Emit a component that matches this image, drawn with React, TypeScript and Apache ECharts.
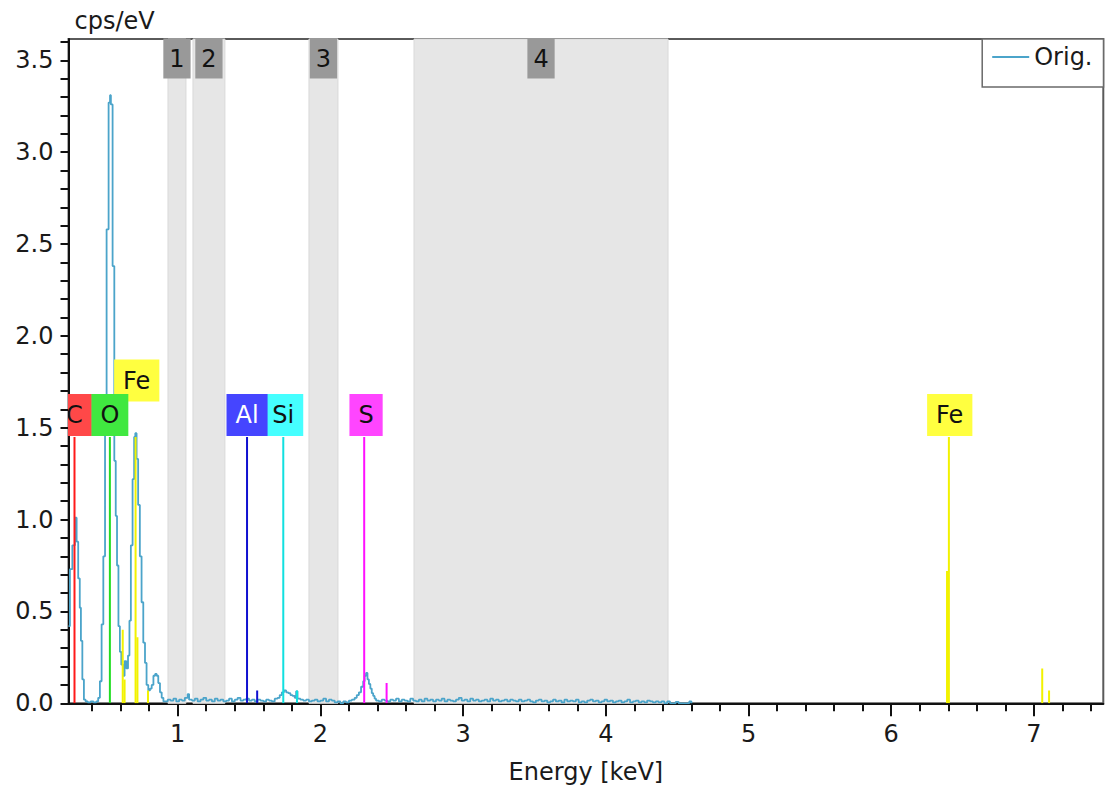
import React, { useEffect, useRef } from 'react';
import * as echarts from 'echarts';

const FONT = '"DejaVu Sans", "Noto Sans", sans-serif';

// ---- axis ticks ----
const xMajorTicks = [1, 2, 3, 4, 5, 6, 7];
const xMinorTicks = [0.4, 0.6, 0.8, 1.2, 1.4, 1.6, 1.8, 2.2, 2.4, 2.6, 2.8, 3.2, 3.4, 3.6, 3.8, 4.2, 4.4, 4.6, 4.8, 5.2, 5.4, 5.6, 5.8, 6.2, 6.4, 6.6, 6.8, 7.2, 7.4];
const yLabelTicks = [0, 0.5, 1.0, 1.5, 2.0, 2.5, 3.0, 3.5];
const yMinorTicks = [0, 0.1, 0.2, 0.3, 0.4, 0.5, 0.6, 0.7, 0.8, 0.9, 1.0, 1.1, 1.2, 1.3, 1.4, 1.5, 1.6, 1.7, 1.8, 1.9, 2.0, 2.1, 2.2, 2.3, 2.4, 2.5, 2.6, 2.7, 2.8, 2.9, 3.0, 3.1, 3.2, 3.3, 3.4, 3.5, 3.6];
const xMinKeV = 0.235;
const xMaxKeV = 7.486;
const yMaxCps = 3.616;

// ---- integration regions ----
const regionNames = ['1', '2', '3', '4'];
const regionStartKeV = [0.932, 1.107, 1.92, 2.656];
const regionEndKeV = [1.058, 1.331, 2.123, 4.436];

// ---- element lines ----
const lineElement = ['C', 'O', 'Fe', 'Fe', 'Fe', 'Fe', 'Fe', 'Al', 'Al', 'Si', 'Si', 'S', 'S', 'Fe', 'Fe', 'Fe', 'Fe'];
const lineKeV = [0.277, 0.525, 0.615, 0.628, 0.705, 0.718, 0.792, 1.486, 1.557, 1.74, 1.836, 2.307, 2.464, 6.391, 6.404, 7.058, 7.106];
const lineCps = [1.45, 1.45, 0.4, 0.13, 1.45, 0.36, 0.07, 1.45, 0.07, 1.45, 0.07, 1.45, 0.11, 0.72, 1.45, 0.19, 0.07];

// ---- element labels ----
const labelElement = ['C', 'Fe', 'O', 'Si', 'Al', 'S', 'Fe'];
const labelKeV = [0.277, 0.713, 0.525, 1.74, 1.486, 2.32, 6.41];
const labelCps = [1.569, 1.757, 1.569, 1.569, 1.569, 1.569, 1.569];

// ---- spectrum (keV, cps/eV) ----
const spectrumLow: [number, number][] = [
  [0.235, 0.42], [0.245, 0.73], [0.262, 0.86], [0.28, 1.01], [0.292, 0.88], [0.303, 0.68], [0.314, 0.52],
  [0.322, 0.34], [0.332, 0.13], [0.343, 0.02], [0.355, 0.01], [0.37, 0.005], [0.39, 0.01], [0.41, 0.005],
  [0.43, 0.01], [0.443, 0.03], [0.455, 0.12], [0.467, 0.43], [0.479, 0.8], [0.491, 1.55], [0.502, 2.58],
  [0.516, 3.27], [0.526, 3.31], [0.532, 3.26], [0.544, 2.38], [0.556, 1.32], [0.566, 1.02], [0.575, 0.75],
  [0.585, 0.42], [0.595, 0.28], [0.605, 0.21], [0.617, 0.15], [0.628, 0.23], [0.64, 0.19], [0.652, 0.26],
  [0.662, 0.45], [0.672, 0.86], [0.684, 1.22], [0.695, 1.45], [0.703, 1.47], [0.712, 1.33], [0.723, 1.08],
  [0.735, 0.8], [0.747, 0.55], [0.759, 0.33], [0.771, 0.22], [0.782, 0.1], [0.794, 0.07], [0.806, 0.08],
  [0.818, 0.1], [0.83, 0.15], [0.842, 0.16], [0.853, 0.15], [0.864, 0.11], [0.876, 0.06], [0.888, 0.03],
  [0.9, 0.01],
];
const spectrumMid: [number, number][] = [
  [0.91, 0.01], [0.93, 0.02], [0.95, 0.015], [0.97, 0.025], [0.99, 0.01], [1.01, 0.02], [1.03, 0.015],
  [1.05, 0.03], [1.07, 0.05], [1.08, 0.02], [1.1, 0.015], [1.12, 0.025], [1.14, 0.01], [1.16, 0.02],
  [1.18, 0.03], [1.2, 0.015], [1.22, 0.02], [1.24, 0.01], [1.26, 0.025], [1.28, 0.015], [1.3, 0.02],
  [1.32, 0.01], [1.34, 0.015], [1.36, 0.025], [1.38, 0.01], [1.4, 0.02], [1.42, 0.03], [1.44, 0.015],
  [1.46, 0.02], [1.48, 0.025], [1.5, 0.015], [1.52, 0.02], [1.54, 0.01], [1.56, 0.02], [1.58, 0.015],
  [1.6, 0.01], [1.62, 0.02], [1.64, 0.015], [1.66, 0.01], [1.68, 0.025], [1.7, 0.03], [1.715, 0.045],
  [1.73, 0.06], [1.745, 0.07], [1.76, 0.06], [1.775, 0.055], [1.79, 0.045], [1.805, 0.04], [1.82, 0.03],
  [1.83, 0.065], [1.84, 0.025], [1.86, 0.02], [1.88, 0.015], [1.9, 0.02], [1.92, 0.01], [1.94, 0.015],
  [1.96, 0.02], [1.98, 0.01], [2.0, 0.015], [2.02, 0.025], [2.04, 0.01], [2.06, 0.02], [2.08, 0.015],
  [2.1, 0.005], [2.12, 0.01], [2.14, 0.0], [2.16, 0.01], [2.18, 0.005], [2.2, 0.015], [2.22, 0.02],
  [2.24, 0.03], [2.255, 0.045], [2.27, 0.06], [2.285, 0.09], [2.3, 0.12], [2.31, 0.15], [2.32, 0.165],
  [2.33, 0.13], [2.34, 0.105], [2.35, 0.08], [2.36, 0.055], [2.37, 0.04], [2.38, 0.025], [2.39, 0.015],
  [2.41, 0.01], [2.43, 0.02], [2.45, 0.015], [2.47, 0.01], [2.49, 0.02], [2.51, 0.015], [2.53, 0.025],
  [2.55, 0.01], [2.57, 0.02], [2.59, 0.015], [2.61, 0.01], [2.63, 0.025], [2.65, 0.015], [2.67, 0.01],
];
const spectrumHigh: [number, number][] = [
  [2.69, 0.02], [2.71, 0.01], [2.73, 0.025], [2.75, 0.015], [2.77, 0.02], [2.79, 0.01], [2.81, 0.02],
  [2.83, 0.015], [2.85, 0.025], [2.87, 0.01], [2.89, 0.02], [2.91, 0.015], [2.93, 0.01], [2.95, 0.02],
  [2.97, 0.03], [2.99, 0.015], [3.01, 0.02], [3.03, 0.01], [3.05, 0.025], [3.07, 0.015], [3.09, 0.02],
  [3.11, 0.01], [3.13, 0.015], [3.15, 0.02], [3.17, 0.01], [3.19, 0.025], [3.21, 0.015], [3.23, 0.02],
  [3.25, 0.01], [3.27, 0.015], [3.29, 0.02], [3.31, 0.01], [3.33, 0.02], [3.35, 0.015], [3.37, 0.01],
  [3.39, 0.02], [3.41, 0.01], [3.43, 0.015], [3.45, 0.02], [3.47, 0.01], [3.49, 0.005], [3.51, 0.015],
  [3.53, 0.02], [3.55, 0.01], [3.57, 0.015], [3.59, 0.005], [3.61, 0.01], [3.63, 0.02], [3.65, 0.01],
  [3.67, 0.015], [3.69, 0.005], [3.71, 0.02], [3.73, 0.01], [3.75, 0.015], [3.77, 0.01], [3.79, 0.02],
  [3.81, 0.005], [3.83, 0.01], [3.85, 0.005], [3.87, 0.015], [3.89, 0.02], [3.91, 0.01], [3.93, 0.015],
  [3.95, 0.005], [3.97, 0.01], [3.99, 0.02], [4.01, 0.01], [4.03, 0.015], [4.05, 0.005], [4.07, 0.01],
  [4.09, 0.015], [4.11, 0.005], [4.13, 0.01], [4.15, 0.02], [4.17, 0.005], [4.19, 0.01], [4.21, 0.015],
  [4.23, 0.005], [4.25, 0.01], [4.27, 0.005], [4.29, 0.015], [4.31, 0.01], [4.33, 0.005], [4.35, 0.01],
  [4.37, 0.005], [4.39, 0.01], [4.41, 0.0], [4.43, 0.01], [4.45, 0.0], [4.49, 0.008], [4.51, 0.0],
  [4.575, 0.0], [4.585, 0.01], [4.6, 0.0],
];

// ---- styles ----
const elementLineColor: Record<string, string> = {
  C: '#ff1a1a', O: '#22dd22', Fe: '#f2f200', Al: '#1010d0', Si: '#10e0e0', S: '#ff10ff',
};
const elementBoxColor: Record<string, string> = {
  C: '#ff4848', O: '#40e840', Fe: '#ffff40', Al: '#4545ff', Si: '#45ffff', S: '#ff45ff',
};
const elementTextColor: Record<string, string> = { Al: '#ffffff' };
const TEXT = '#1a1a1a';
const SPEC = '#4ba4ca';

export default function App() {
  const ref = useRef<HTMLDivElement>(null);

  useEffect(() => {
    if (!ref.current) return;
    const chart = echarts.init(ref.current, null, { renderer: 'svg' });
    const spectrum = [...spectrumLow, ...spectrumMid, ...spectrumHigh];

    const option: any = {
      animation: false,
      backgroundColor: '#ffffff',
      textStyle: { fontFamily: FONT, color: TEXT },
      grid: {
        left: 68.5, right: 2.7, top: 39, bottom: 88.7,
        show: true, borderColor: '#5a5a5a', borderWidth: 2, backgroundColor: 'transparent',
      },
      legend: {
        data: ['Orig.'],
        right: 2.5,
        top: 39,
        orient: 'vertical',
        icon: 'rect',
        padding: [6, 11, 18, 10],
        borderColor: '#6a6a6a',
        borderWidth: 1.5,
        itemWidth: 37,
        itemHeight: 2,
        itemGap: 6,
        backgroundColor: '#ffffff',
        textStyle: { fontFamily: FONT, fontSize: 24, lineHeight: 22, color: TEXT },
      },
      xAxis: [
        {
          type: 'value',
          min: xMinKeV,
          max: xMaxKeV,
          position: 'bottom',
          name: 'Energy [keV]',
          nameLocation: 'middle',
          nameGap: 57,
          nameTextStyle: { fontFamily: FONT, fontSize: 24, color: TEXT },
          axisLine: { show: true, onZero: false, lineStyle: { color: '#111', width: 2 } },
          axisTick: { show: true, customValues: xMajorTicks, length: 13, lineStyle: { color: '#111', width: 2 } },
          axisLabel: {
            customValues: xMajorTicks, margin: 19, fontFamily: FONT, fontSize: 24, color: TEXT,
            formatter: (v: number) => String(v),
          },
          splitLine: { show: false },
        },
        {
          type: 'value',
          min: xMinKeV,
          max: xMaxKeV,
          position: 'bottom',
          axisLine: { show: false, onZero: false },
          axisTick: { show: true, customValues: xMinorTicks, length: 8, lineStyle: { color: '#111', width: 2 } },
          axisLabel: { show: false },
          splitLine: { show: false },
        },
      ],
      yAxis: {
        type: 'value',
        min: 0,
        max: yMaxCps,
        name: 'cps/eV',
        nameLocation: 'end',
        nameGap: 6,
        nameTextStyle: { fontFamily: FONT, fontSize: 24, color: TEXT, align: 'left', verticalAlign: 'bottom', padding: [0, 0, 0, 6] },
        axisLine: { show: true, onZero: false, lineStyle: { color: '#111', width: 2 } },
        axisTick: { show: true, customValues: yMinorTicks, length: 8, lineStyle: { color: '#111', width: 2 } },
        axisLabel: {
          customValues: yLabelTicks, margin: 15, fontFamily: FONT, fontSize: 24, color: TEXT,
          formatter: (v: number) => v.toFixed(1),
        },
        splitLine: { show: false },
      },
      series: [
        {
          name: 'Orig.',
          type: 'line',
          step: 'end',
          symbol: 'none',
          z: 3,
          data: spectrum,
          lineStyle: { color: SPEC, width: 1.8 },
          itemStyle: { color: SPEC },
          markArea: {
            silent: true,
            itemStyle: { color: '#e6e6e6', borderColor: '#d9d9d9', borderWidth: 1 },
            label: {
              show: true,
              position: 'insideTop',
              distance: 0,
              backgroundColor: '#999999',
              padding: [8, 6],
              fontFamily: FONT,
              fontSize: 24,
              lineHeight: 24,
              color: '#111',
            },
            data: regionNames.map((n, i) => [
              { name: n, xAxis: regionStartKeV[i] },
              { xAxis: regionEndKeV[i] },
            ]),
          },
        },
        {
          name: 'lines',
          type: 'custom',
          z: 4,
          clip: true,
          data: lineKeV.map((e, i) => [e, lineCps[i]]),
          encode: { x: 0, y: 1 },
          renderItem: (params: any, api: any) => {
            const e = api.value(0);
            const h = api.value(1);
            const p0 = api.coord([e, 0]);
            const p1 = api.coord([e, h]);
            const el = lineElement[params.dataIndex];
            return {
              type: 'line',
              shape: { x1: p0[0], y1: p0[1], x2: p1[0], y2: p1[1] },
              style: { stroke: elementLineColor[el], lineWidth: 2 },
            };
          },
        },
        {
          name: 'labels',
          type: 'custom',
          z: 5,
          clip: true,
          data: labelKeV.map((e, i) => [e, labelCps[i]]),
          encode: { x: 0, y: 1 },
          renderItem: (params: any, api: any) => {
            const p = api.coord([api.value(0), api.value(1)]);
            const el = labelElement[params.dataIndex];
            return {
              type: 'text',
              x: p[0],
              y: p[1],
              style: {
                text: el,
                fill: elementTextColor[el] || '#111',
                backgroundColor: elementBoxColor[el],
                padding: [8, 9],
                fontFamily: FONT,
                fontSize: 24,
                lineHeight: 26,
                align: 'center',
                verticalAlign: 'middle',
              },
            };
          },
        },
      ],
    };

    chart.setOption(option);
    return () => chart.dispose();
  }, []);

  return (
    <div style={{ position: 'absolute', left: 0, top: 0, width: 1106, height: 792, background: '#fff' }}>
      <div ref={ref} style={{ width: 1106, height: 792 }} />
    </div>
  );
}
